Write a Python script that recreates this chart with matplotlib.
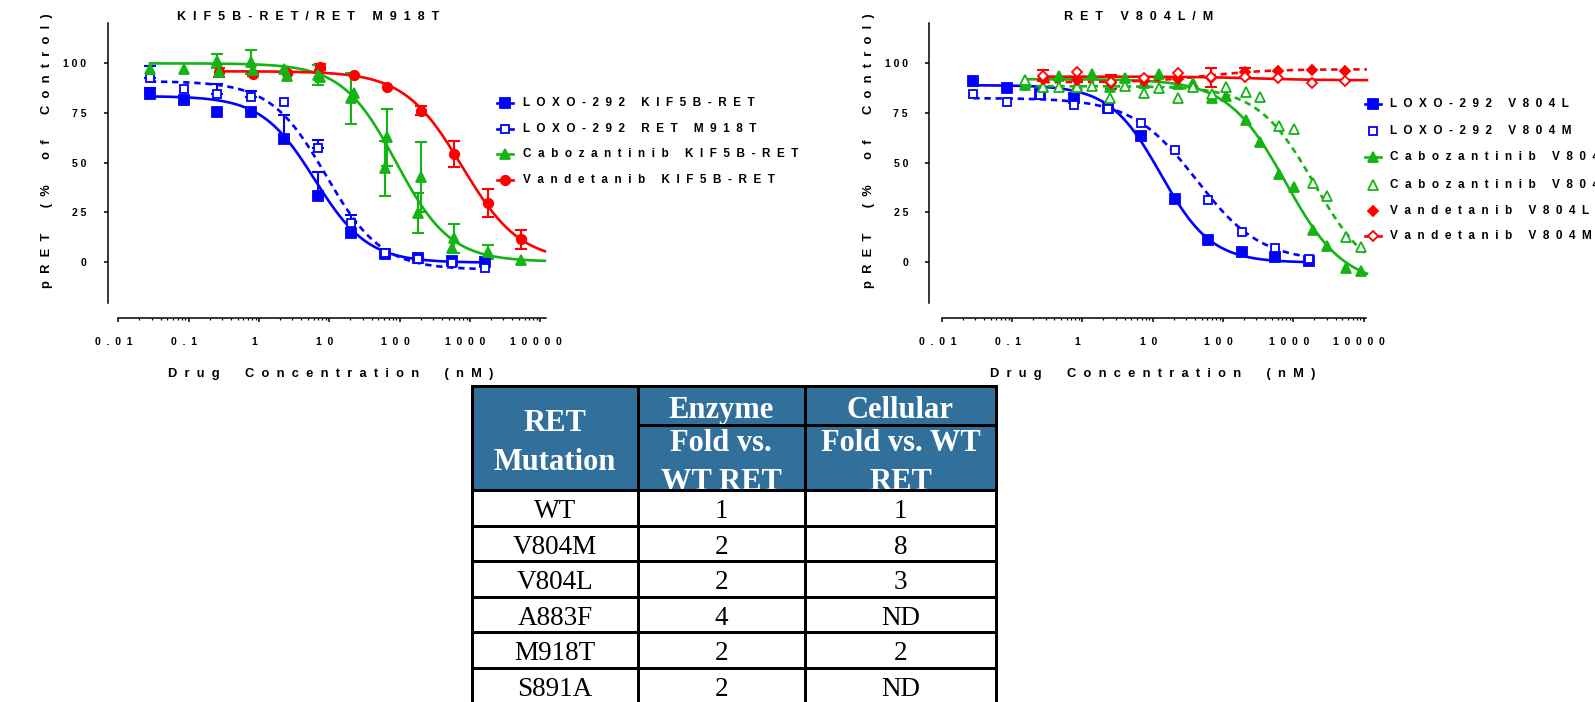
import numpy as np
import matplotlib
matplotlib.use('Agg')
import matplotlib.pyplot as plt
from matplotlib.patches import Rectangle
from matplotlib.ticker import LogLocator, NullFormatter

# ---------------------------------------------------------- #
#                 Data                    #
# ---------------------------------------------------------- #

# concentrations (nM)
conc_a = [0.0282, 0.0847, 0.254, 0.762, 2.29, 6.86, 20.6, 61.7, 185, 556, 1667]
conc_b = [0.274, 0.823, 2.47, 7.41, 22.2, 66.7, 200, 600, 1800, 5400]
conc_cabo_r = [0.154, 0.28, 0.46, 0.84, 1.38, 2.5, 4.1, 7.5, 12.5, 23, 37.5,
               69, 112, 210, 337, 630, 1010, 1900, 3030, 5600, 9100]
conc_vand_r = [0.28, 0.84, 2.52, 7.56, 22.7, 68, 204, 612, 1837, 5511]

# ---- left panel: KIF5B-RET / RET M918T ----
loxo_kif5b = [84.4, 81.5, 75.6, 75.6, 61.7, 33.3, 14.3, 3.9, 1.7, 0.5, 0.0]
loxo_kif5b_err = [3.0, 0, 0, 0, 12.2, 11.7, 0, 0, 0, 0, 0]
loxo_m918t = [92.7, 86.9, 84.5, 82.9, 80.6, 57.1, 19.7, 4.5, 1.2, -0.8, -3.0]
loxo_m918t_err = [5.9, 0, 4.9, 3.1, 0, 4.2, 3.8, 0, 0, 0, 0]
cabo_kif5b_1 = [97.0, 97.0, 101.2, 100.8, 97.1, 94.1, 82.3, 47.0, 24.7, 6.7]
cabo_kif5b_1_err = [0, 0, 3.5, 6.0, 0, 4.9, 12.7, 13.7, 10.0, 0]
cabo_kif5b_2 = [95.8, 96.6, 93.6, 93.2, 84.9, 62.7, 42.8, 11.8, 5.0, 0.9]
cabo_kif5b_2_err = [0, 0, 0, 0, 0, 14.3, 17.7, 7.2, 3.6, 0]
vand_kif5b = [95.4, 94.6, 95.3, 98.0, 94.1, 87.9, 76.1, 54.3, 29.4, 11.3]
vand_kif5b_err = [2.5, 1.0, 0, 1.6, 0, 0, 2.3, 6.6, 7.1, 4.9]

# ---- right panel: RET V804L/M ----
loxo_v804l = [91.1, 87.4, 84.4, 82.7, 77.6, 63.4, 31.6, 10.9, 5.0, 2.5, 0.5]
loxo_v804m = [84.4, 80.4, 84.0, 78.8, 76.8, 70.1, 56.3, 31.1, 15.1, 7.1, 1.5]
cabo_v804l = [89.0, 88.2, 93.8, 89.0, 94.6, 88.2, 92.7, 89.9, 94.4, 89.4, 89.9,
              82.7, 83.5, 71.5, 60.5, 44.2, 37.5, 16.0, 7.9, -3.0, -4.5]
cabo_v804m = [91.6, 88.0, 88.2, 88.0, 88.7, 82.7, 88.7, 84.9, 87.4, 82.7, 88.0,
              84.4, 88.2, 85.7, 83.2, 68.4, 66.7, 39.8, 33.1, 12.6, 7.6]
vand_v804l = [91.9, 91.5, 89.9, 91.0, 92.0, 92.7, 95.4, 96.1, 96.6, 96.1]
vand_v804l_err = [0, 0, 0, 0, 0, 4.8, 2.4, 0, 0, 0]
vand_v804m = [93.8, 95.8, 90.7, 92.7, 95.0, 93.0, 93.0, 92.4, 89.9, 91.1]
vand_v804m_err = [2.8, 0, 3.4, 0, 0, 0, 0, 0, 0, 0]

# 4PL fits: (top, bottom, IC50 nM, hill), (first, last nM)
fit_loxo_kif5b = (83.5, -0.5, 6.2, 1.15), (0.0282, 1667)
fit_loxo_m918t = (91.0, -4.0, 9.0, 1.1), (0.0282, 1667)
fit_cabo_kif5b = (100.0, 0.0, 90.0, 1.13), (0.0282, 11700)
fit_vand_kif5b = (96.0, 0.0, 778.0, 1.05), (0.274, 11700)
fit_loxo_v804l = (89.0, -0.5, 13.0, 1.2), (0.0282, 1667)
fit_loxo_v804m = (82.5, 0.0, 42.0, 0.95), (0.0282, 1667)
fit_cabo_v804l = (92.0, -12.0, 780.0, 1.05), (0.154, 11200)
fit_cabo_v804m = (88.5, -10.0, 2000.0, 1.07), (0.154, 11200)
fit_vand_v804l = (90.5, 97.0, 60.0, 1.0), (0.28, 11200)
fit_vand_v804m = (93.3, 91.5, 300.0, 1.0), (0.28, 11200)

xtick_vals = [0.01, 0.1, 1, 10, 100, 1000, 10000]
xtick_text = ['0.01', '0.1', '1', '10', '100', '1000', '10000']
ytick_vals = [0, 25, 50, 75, 100]

left_legend = ['LOXO-292 KIF5B-RET', 'LOXO-292 RET M918T',
               'Cabozantinib KIF5B-RET', 'Vandetanib KIF5B-RET']
right_legend = ['LOXO-292 V804L', 'LOXO-292 V804M', 'Cabozantinib V804L',
                'Cabozantinib V804M', 'Vandetanib V804L', 'Vandetanib V804M']

# table
table_mutation = ['WT', 'V804M', 'V804L', 'A883F', 'M918T', 'S891A']
table_enzyme = ['1', '2', '2', '4', '2', '2']
table_cellular = ['1', '8', '3', 'ND', '2', 'ND']

# ---------------------------------------------------------- #
#                        Styling                              #
# ---------------------------------------------------------- #

BLUE = '#0000ff'
GREEN = '#14b414'
RED = '#ff0000'
HEAD = '#32709c'
W, H = 1595, 702
PT = 0.72  # points per pixel at dpi 100

plt.rcParams['font.family'] = ['Liberation Sans', 'DejaVu Sans']
plt.rcParams['font.weight'] = 'bold'


def spaced(text, gap=2, word=5, tail=0):
    '''spread the letters out like the exported prism text'''
    out = (' ' * word).join((' ' * gap).join(w) for w in text.split(' '))
    return out + ' ' * tail


def four_pl(x, top, bottom, ic50, hill):
    return bottom + (top - bottom) / (1 + (x / ic50) ** hill)


def draw_curve(ax, fit, color, dashed=False):
    params, span = fit
    xs = np.logspace(np.log10(span[0]), np.log10(span[1]), 300)
    ax.plot(xs, four_pl(xs, *params), color=color, lw=1.9,
            ls=(0, (2.4, 1.8)) if dashed else '-', zorder=2, clip_on=False)


def draw_points(ax, x, y, color, marker, filled, err=None, upper=False, ms=6.8):
    x = np.asarray(x, float)
    y = np.asarray(y, float)
    if err is not None:
        err = np.asarray(err, float)
        m = err > 0
        low = np.zeros(m.sum()) if upper else err[m]
        ax.errorbar(x[m], y[m], yerr=[low, err[m]], fmt='none', ecolor=color,
                    elinewidth=1.5, capsize=4, capthick=1.5, zorder=3)
    ax.plot(x, y, ls='none', marker=marker, ms=ms,
            mfc=color if filled else 'white', mec=color, mew=1.3, zorder=4)


def setup_axes(x0, x1, yoff_px):
    top, bot = 23.3, 302.7
    ax = fig.add_axes([x0 / W, 1 - bot / H, (x1 - x0) / W, (bot - top) / H])
    ax.set_xscale('log')
    ax.set_xlim(1e-2, 10 ** ((x1 - x0) / 70.3 - 2))
    ax.set_ylim(-20.7, 120.2)
    ax.patch.set_visible(False)
    for s in ['top', 'right']:
        ax.spines[s].set_visible(False)
    ax.spines['left'].set_position(('outward', yoff_px * PT))
    ax.spines['bottom'].set_position(('outward', 15 * PT))
    ax.spines['left'].set_linewidth(1.1)
    ax.spines['bottom'].set_linewidth(1.1)
    ax.set_xticks(xtick_vals)
    ax.set_xticklabels([spaced(t, tail=3) for t in xtick_text])
    ax.xaxis.set_minor_locator(LogLocator(base=10, subs=np.arange(2, 10),
                                          numticks=20))
    ax.xaxis.set_minor_formatter(NullFormatter())
    ax.set_yticks(ytick_vals)
    ax.set_yticklabels([spaced(str(v), gap=1) for v in ytick_vals])
    ax.tick_params(axis='x', which='major', direction='out', length=4 * PT,
                   width=1.1, labelsize=7.5, pad=11)
    ax.tick_params(axis='x', which='minor', direction='out', length=2 * PT,
                   width=0.9)
    ax.tick_params(axis='y', direction='out', length=4 * PT, width=1.1,
                   labelsize=7.5, pad=12.5)
    return ax


fig = plt.figure(figsize=(W / 100, H / 100), dpi=100)

# overlay in pixel coordinates for titles, legends and the table
ov = fig.add_axes([0, 0, 1, 1])
ov.set_xlim(0, W)
ov.set_ylim(H, 0)
ov.axis('off')

# ---------------------------------------------------------- #
#                      Left panel                             #
# ---------------------------------------------------------- #

ax1 = setup_axes(118.3, 546, 10.6)
draw_curve(ax1, fit_loxo_kif5b, BLUE)
draw_curve(ax1, fit_loxo_m918t, BLUE, dashed=True)
draw_curve(ax1, fit_cabo_kif5b, GREEN)
draw_curve(ax1, fit_vand_kif5b, RED)
draw_points(ax1, conc_a, loxo_kif5b, BLUE, 's', True, loxo_kif5b_err, upper=True)
draw_points(ax1, conc_a, loxo_m918t, BLUE, 's', False, loxo_m918t_err,
            upper=True, ms=6.2)
draw_points(ax1, conc_b, vand_kif5b, RED, 'o', True, vand_kif5b_err)
draw_points(ax1, conc_a[:10], cabo_kif5b_1, GREEN, '^', True, cabo_kif5b_1_err,
            ms=7.8)
draw_points(ax1, conc_b, cabo_kif5b_2, GREEN, '^', True, cabo_kif5b_2_err,
            ms=7.8)

# ---------------------------------------------------------- #
#                      Right panel                            #
# ---------------------------------------------------------- #

ax2 = setup_axes(941.7, 1366, 12.4)
draw_curve(ax2, fit_loxo_v804l, BLUE)
draw_curve(ax2, fit_loxo_v804m, BLUE, dashed=True)
draw_curve(ax2, fit_cabo_v804l, GREEN)
draw_curve(ax2, fit_cabo_v804m, GREEN, dashed=True)
draw_curve(ax2, fit_vand_v804l, RED, dashed=True)
draw_curve(ax2, fit_vand_v804m, RED)
draw_points(ax2, conc_a, loxo_v804l, BLUE, 's', True)
draw_points(ax2, conc_a, loxo_v804m, BLUE, 's', False, ms=6.2)
draw_points(ax2, conc_cabo_r, cabo_v804l, GREEN, '^', True, ms=7.8)
draw_points(ax2, conc_cabo_r, cabo_v804m, GREEN, '^', False, ms=7.2)
draw_points(ax2, conc_vand_r, vand_v804l, RED, 'D', True, vand_v804l_err, ms=5)
draw_points(ax2, conc_vand_r, vand_v804m, RED, 'D', False, vand_v804m_err, ms=5)

# ---------- titles and axis labels ---------- #

txt = dict(fontsize=9, fontweight='bold', ha='center', va='center')
ov.text(308, 17, spaced('KIF5B-RET/RET M918T'), **txt)
ov.text(1139, 17, spaced('RET V804L/M'), **txt)
lab = dict(fontsize=9.3, fontweight='bold', ha='center', va='center')
for xc in (330.5, 1153):
    ov.text(xc, 374.5, spaced('Drug Concentration (nM)', word=7), **lab)
for xc in (47, 869):
    ov.text(xc, 151, spaced('pRET (% of Control)', word=7), rotation=90,
            **lab)

# ---------- legends ---------- #


def legend_entry(x0, y, color, marker, filled, line, label, ms):
    if line:
        ov.plot([x0, x0 + 16], [y, y], color=color, lw=1.9)
    ov.plot([x0 + 8], [y], ls='none', marker=marker, ms=ms,
            mfc=color if filled else 'white', mec=color, mew=1.3)
    ov.text(x0 + 25.5, y, spaced(label), fontsize=8.5, fontweight='bold',
            ha='left', va='center')


left_style = [(BLUE, 's', True, 6.8), (BLUE, 's', False, 6.2),
              (GREEN, '^', True, 7.8), (RED, 'o', True, 6.8)]
for y, (c, mk, f, ms), name in zip([102.7, 129, 154.3, 180], left_style,
                                   left_legend):
    legend_entry(497.3, y, c, mk, f, True, name, ms)

right_style = [(BLUE, 's', True, True, 6.8), (BLUE, 's', False, False, 6.2),
               (GREEN, '^', True, True, 7.8), (GREEN, '^', False, False, 7.2),
               (RED, 'D', True, False, 5), (RED, 'D', False, True, 5)]
for y, (c, mk, f, ln, ms), name in zip([104, 130.5, 157.3, 184.5, 210.5, 236],
                                       right_style, right_legend):
    legend_entry(1364.7, y, c, mk, f, ln, name, ms)

# ---------------------------------------------------------- #
#                          Table                              #
# ---------------------------------------------------------- #

col_x = [472, 637.6, 804.8, 996]
y_top, y_sub, y_head, row_h = 386, 425, 490, 35.6
serif = 'Liberation Serif'
BW = 3 * PT

ov.add_patch(Rectangle((col_x[0], y_top), col_x[3] - col_x[0], y_head - y_top,
                       facecolor=HEAD, edgecolor='none', zorder=1))

centres = [(col_x[i] + col_x[i + 1]) / 2 for i in range(3)]
head = dict(color='white', fontsize=22, fontweight='bold', family=serif,
            ha='center', va='baseline', zorder=2)
ov.text(centres[0], 431, 'RET', **head)
ov.text(centres[0], 470, 'Mutation', **head)
ov.text(centres[1], 418.3, 'Enzyme', **head)
ov.text(centres[1], 450.7, 'Fold vs.', **head)
ov.text(centres[1], 489.5, 'WT RET', **head)
ov.text(centres[2], 418.3, 'Cellular', **head)
ov.text(centres[2], 450.7, 'Fold vs. WT', **head)
ov.text(centres[2], 489.5, 'RET', **head)

body = dict(color='black', fontsize=19.5, fontweight='normal', family=serif,
            ha='center', va='baseline', zorder=2)
for k, row in enumerate(zip(table_mutation, table_enzyme, table_cellular)):
    base = y_head + (k + 1) * row_h - 7.7
    for xc, val in zip(centres, row):
        ov.text(xc, base, val, **body)

# grid lines
for xv in col_x:
    ov.plot([xv, xv], [y_top - 1.5, H + 10], color='black', lw=BW, zorder=3,
            solid_capstyle='butt', clip_on=False)
ov.plot([col_x[0], col_x[3]], [y_top, y_top], color='black', lw=BW, zorder=3)
ov.plot([col_x[1], col_x[3]], [y_sub, y_sub], color='black', lw=BW, zorder=3)
for k in range(len(table_mutation)):
    yv = y_head + k * row_h
    ov.plot([col_x[0], col_x[3]], [yv, yv], color='black', lw=BW, zorder=3)

fig.savefig('out.png', dpi=100)
